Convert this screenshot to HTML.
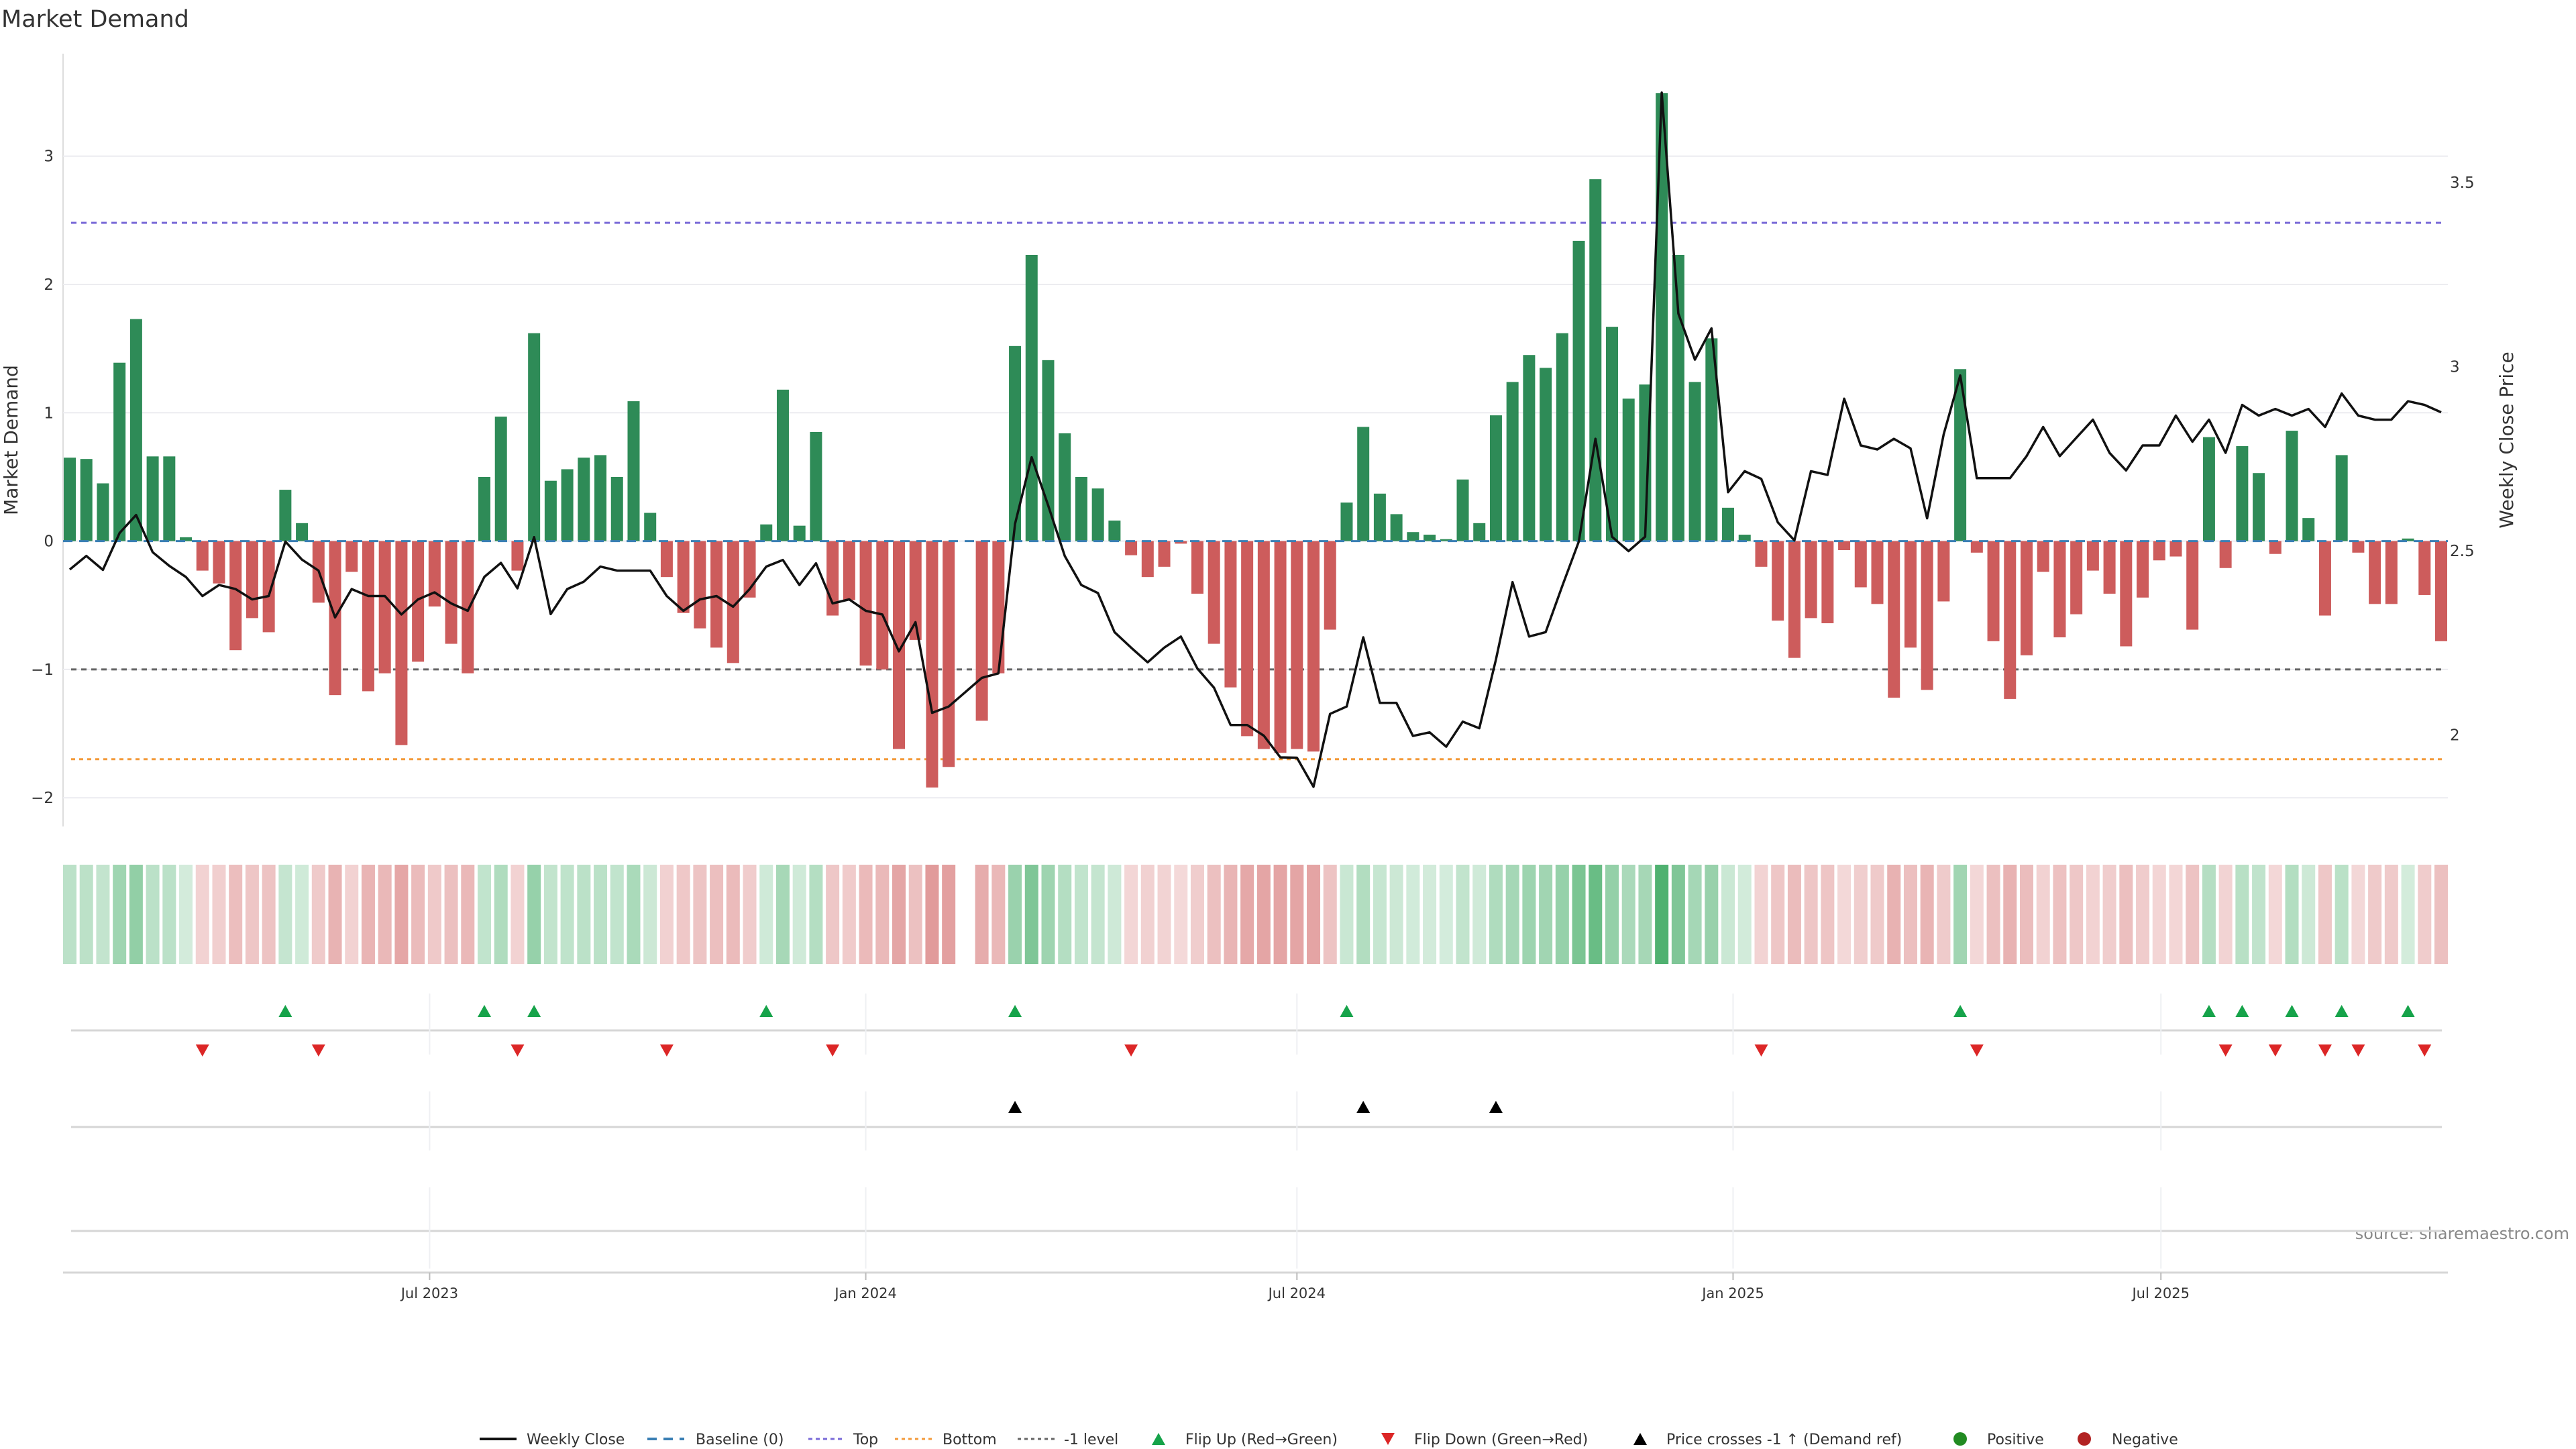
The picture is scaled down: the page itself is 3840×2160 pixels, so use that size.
<!DOCTYPE html>
<html><head><meta charset="utf-8"><style>
html,body{margin:0;padding:0;background:#fff;}
svg{display:block;font-family:"DejaVu Sans","Liberation Sans",sans-serif;}
</style></head><body>
<svg id="chart" width="3840" height="2160" viewBox="0 0 3840 2160" xmlns="http://www.w3.org/2000/svg">
<text x="2" y="40" font-size="35" fill="#333">Market Demand</text>
<text transform="translate(26,656) rotate(-90)" text-anchor="middle" font-size="28" fill="#333">Market Demand</text>
<text transform="translate(3746,656) rotate(-90)" text-anchor="middle" font-size="28" fill="#333">Weekly Close Price</text>
<text x="3830" y="1847" text-anchor="end" font-size="24" fill="#888">source: sharemaestro.com</text>
<g id="grid"></g><g id="refs"></g><g id="bars"></g><g id="line"></g><g id="strip"></g><g id="markers"></g><g id="xaxis"></g><g id="legend"></g>
</svg>
<script>
const demand = [0.65,0.64,0.45,1.39,1.73,0.66,0.66,0.03,-0.23,-0.33,-0.85,-0.60,-0.71,0.40,0.14,-0.48,-1.20,-0.24,-1.17,-1.03,-1.59,-0.94,-0.51,-0.80,-1.03,0.50,0.97,-0.23,1.62,0.47,0.56,0.65,0.67,0.50,1.09,0.22,
-0.28,-0.56,-0.68,-0.83,-0.95,-0.44,0.13,1.18,0.12,0.85,-0.58,-0.46,-0.97,-1.00,-1.62,-0.77,-1.92,-1.76,null,-1.40,-1.03,1.52,2.23,1.41,0.84,0.50,0.41,0.16,-0.11,-0.28,-0.20,-0.02,-0.41,-0.80,-1.14,-1.52,-1.62,-1.65,
-1.62,-1.64,-0.69,0.30,0.89,0.37,0.21,0.07,0.05,0.015,0.48,0.14,0.98,1.24,1.45,1.35,1.62,2.34,2.82,1.67,1.11,1.22,3.49,2.23,1.24,1.58,0.26,0.05,-0.20,-0.62,-0.91,-0.60,-0.64,-0.07,-0.36,-0.49,-1.22,
-0.83,-1.16,-0.47,1.34,-0.09,-0.78,-1.23,-0.89,-0.24,-0.75,-0.57,-0.23,-0.41,-0.82,-0.44,-0.15,-0.12,-0.69,0.81,-0.21,0.74,0.53,-0.10,0.86,0.18,-0.58,0.67,-0.09,-0.49,-0.49,0.02,-0.42,-0.78];
const price = [2.449,2.486,2.448,2.548,2.597,2.496,2.459,2.429,2.377,2.407,2.396,2.368,2.377,2.525,2.476,2.446,2.319,2.396,2.377,2.377,2.327,2.368,2.387,2.357,2.337,2.429,2.467,2.398,2.537,2.328,2.396,2.416,2.457,2.446,2.446,2.446,
2.377,2.337,2.368,2.377,2.348,2.396,2.457,2.475,2.407,2.466,2.357,2.368,2.337,2.327,2.227,2.306,2.060,2.077,2.116,2.155,2.167,2.573,2.754,2.623,2.486,2.407,2.385,2.279,2.237,2.197,2.237,2.267,2.180,2.128,2.027,2.027,1.998,1.939,
1.938,1.859,2.057,2.077,2.265,2.087,2.087,1.997,2.007,1.968,2.036,2.018,2.204,2.415,2.267,2.279,2.404,2.525,2.804,2.538,2.499,2.538,3.744,3.144,3.019,3.104,2.659,2.716,2.695,2.577,2.528,2.716,2.706,2.913,2.786,2.775,2.804,
2.778,2.588,2.816,2.976,2.697,2.697,2.697,2.757,2.836,2.757,2.807,2.856,2.766,2.718,2.786,2.786,2.867,2.796,2.856,2.766,2.896,2.867,2.885,2.867,2.885,2.836,2.927,2.867,2.856,2.856,2.906,2.896,2.876];
const yTicks = [-2,-1,0,1,2,3];
const y2Ticks = [2,2.5,3,3.5];
const refLevels = [2.48,-1,-1.70];
const tickLabels = ["Jul 2023","Jan 2024","Jul 2024","Jan 2025","Jul 2025"];
const tickWeeks = [21.7,48.0,74.0,100.3,126.1];

const NS="http://www.w3.org/2000/svg";
function mk(parent,tag,attrs){const e=document.createElementNS(NS,tag);for(const k in attrs)e.setAttribute(k,attrs[k]);parent.appendChild(e);return e;}
const X0=104, STEP=(3639-104)/143, PL=94, PR=3649;
const xs=i=>X0+i*STEP;
const yd=v=>806.6-v*191.3;
const yp=p=>821-(p-2.5)*549;
const pFromY=y=>2.5+(821-y)/549;
const g=id=>document.getElementById(id);

const grid=g('grid');
mk(grid,'line',{x1:PL,x2:PL,y1:80,y2:1232,stroke:'#ddd','stroke-width':2});
yTicks.forEach(t=>{
  const gl=mk(grid,'line',{x1:PL,x2:PR,y1:yd(t),y2:yd(t),stroke:'#ececf0','stroke-width':2});
  
  const tx=mk(grid,'text',{x:80,y:yd(t)+8,'text-anchor':'end','font-size':23,fill:'#333'});
  tx.textContent=(t<0?'\u2212'+(-t):String(t));
  
});
y2Ticks.forEach(t=>{
  const tx=mk(grid,'text',{x:3652,y:yp(t)+8,'font-size':23,fill:'#333'});
  tx.textContent=String(t);
  
});
const refs=g('refs');
const refStyle=[['#7a6ad8','8,7','top-line'],['#666','8,7','minus-one-level-line'],['#f39a3a','6,6','bottom-line']];
refLevels.forEach((v,k)=>{
  const l=mk(refs,'line',{x1:106,x2:3640,y1:yd(v),y2:yd(v),stroke:refStyle[k][0],'stroke-width':3,'stroke-dasharray':refStyle[k][1]});
  
});
const bars=g('bars');
demand.forEach((v,i)=>{
  if(v===null)return;
  const y0=yd(0),y1=yd(v);
  const r=mk(bars,'rect',{x:xs(i)-9,y:Math.min(y0,y1),width:18,height:Math.max(1,Math.abs(y1-y0)),fill:v>=0?'#2e8b57':'#cd5c5c'});
  
});
const bl=mk(bars,'line',{x1:94,x2:3649,y1:yd(0),y2:yd(0),stroke:'#3a7fb4','stroke-width':3,'stroke-dasharray':'14,10'});

const pl=mk(g('line'),'polyline',{points:price.map((p,i)=>xs(i).toFixed(1)+','+yp(p).toFixed(1)).join(' '),fill:'none',stroke:'#111','stroke-width':3.5,'stroke-linejoin':'round'});

const strip=g('strip');
demand.forEach((v,i)=>{
  if(v===null)return;
  const a=0.2+0.62*Math.min(1,Math.abs(v)/3.5);
  const c=v>=0?[40,160,80]:[200,70,70];
  const col='rgb('+c.map(q=>Math.round(255-(255-q)*a)).join(',')+')';
  const r=mk(strip,'rect',{x:xs(i)-10,y:1289,width:20,height:148,fill:col});
  
});
const xa=g('xaxis');
[1536,1680,1835].forEach(y=>{const l=mk(xa,'line',{x1:106,x2:3640,y1:y,y2:y,stroke:'#d6d6d6','stroke-width':3});});
const ax=mk(xa,'line',{x1:94,x2:3649,y1:1897,y2:1897,stroke:'#d6d6d6','stroke-width':3});

tickWeeks.forEach((w,k)=>{
  const x=xs(w);
  [[1481,1572],[1627,1715],[1770,1891]].forEach(s=>mk(xa,'line',{x1:x,x2:x,y1:s[0],y2:s[1],stroke:'#eef0f3','stroke-width':2}));
  mk(xa,'line',{x1:x,x2:x,y1:1897,y2:1908,stroke:'#bbb','stroke-width':2});
  const t=mk(xa,'text',{x:x,y:1935,'text-anchor':'middle','font-size':21,fill:'#333'});
  t.textContent=tickLabels[k];
  
});
const mg=g('markers');
function tri(x,y,up,col,name){
  const pts=up?[[x-10,y+9],[x+10,y+9],[x,y-9]]:[[x-10,y-9],[x+10,y-9],[x,y+9]];
  const p=mk(mg,'polygon',{points:pts.map(q=>q.join(',')).join(' '),fill:col});
  
}
const levelPrice=pFromY(yd(-1));
let prev=null;
demand.forEach((v,i)=>{
  if(v===null)return;
  if(prev!==null){
    if(prev<0&&v>0)tri(xs(i),1507,true,'#16a34a','flip-up-marker');
    if(prev>0&&v<0)tri(xs(i),1566,false,'#dc2626','flip-down-marker');
  }
  prev=v;
});
price.forEach((p,i)=>{if(i>0&&price[i-1]<levelPrice&&p>=levelPrice)tri(xs(i),1650,true,'#000','price-cross-marker');});
const lg=g('legend');
const Y=2145;
function ltext(x,s){const t=mk(lg,'text',{x:x,y:Y+8,'font-size':22,fill:'#333'});t.textContent=s;}
function lline(x,col,dash,w){const l=mk(lg,'line',{x1:x,x2:x+55,y1:Y,y2:Y,stroke:col,'stroke-width':w,'stroke-dasharray':dash});}
lline(715,'#111','none',4);ltext(785,'Weekly Close');
lline(965,'#3a7fb4','14,10',4);ltext(1037,'Baseline (0)');
lline(1205,'#7a6ad8','6,5',3);ltext(1272,'Top');
lline(1334,'#f39a3a','5,5',3);ltext(1405,'Bottom');
lline(1517,'#666','5,5',3);ltext(1586,'-1 level');
const lt=(x,up,col)=>{const pts=up?[[x-10,Y+9],[x+10,Y+9],[x,Y-9]]:[[x-10,Y-9],[x+10,Y-9],[x,Y+9]];const p=mk(lg,'polygon',{points:pts.map(q=>q.join(',')).join(' '),fill:col});};
lt(1727,true,'#16a34a');ltext(1767,'Flip Up (Red\u2192Green)');
lt(2069,false,'#dc2626');ltext(2108,'Flip Down (Green\u2192Red)');
lt(2445,true,'#000');ltext(2484,'Price crosses -1 \u2191 (Demand ref)');
const c1=mk(lg,'circle',{cx:2922,cy:Y,r:10,fill:'#228b22'});ltext(2962,'Positive');
const c2=mk(lg,'circle',{cx:3107,cy:Y,r:10,fill:'#b22222'});ltext(3148,'Negative');
</script>
</body></html>
